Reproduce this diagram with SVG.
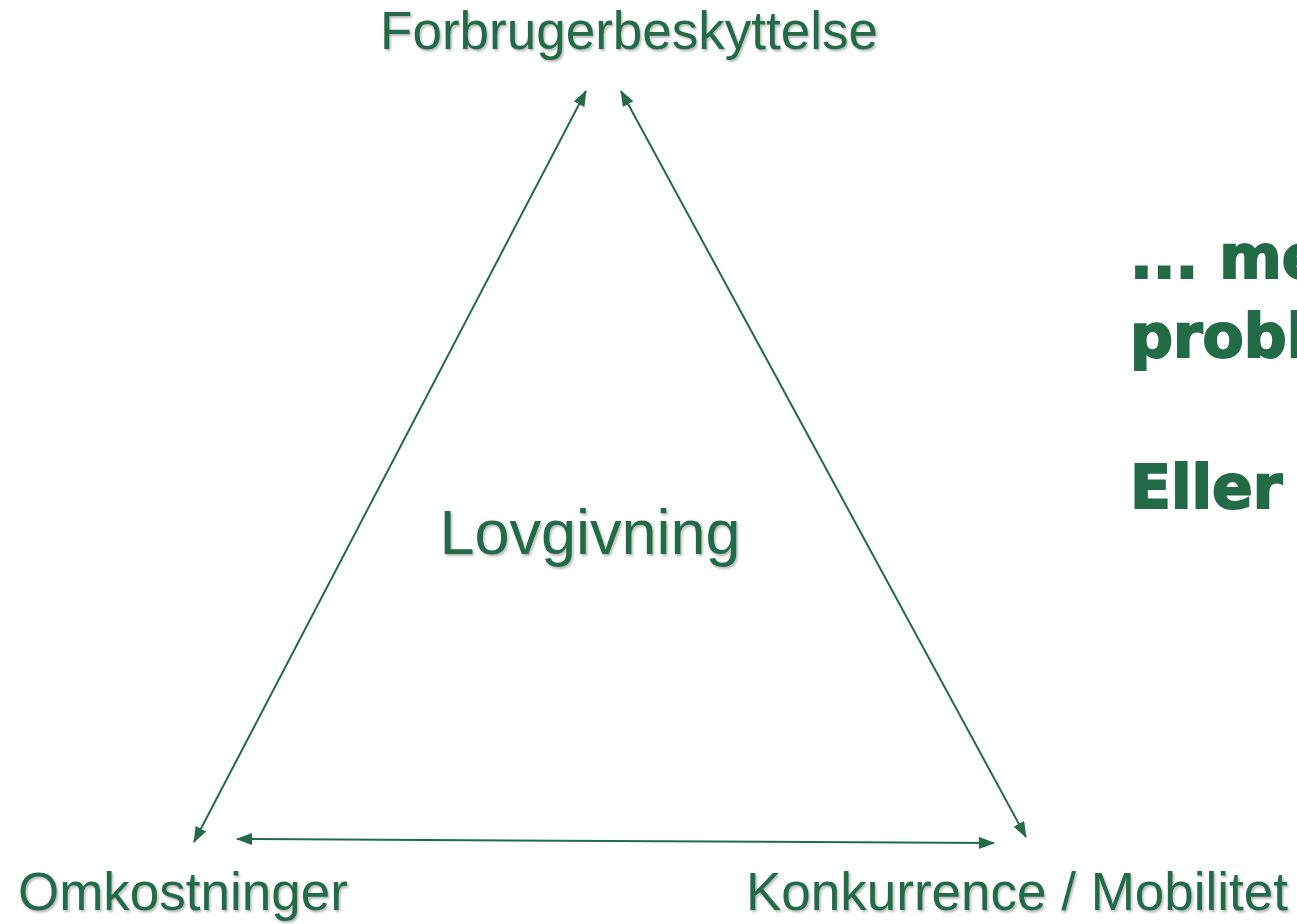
<svg xmlns="http://www.w3.org/2000/svg" width="1297" height="924" viewBox="0 0 1297 924">
  <style>
    .lbl { font-family: "Liberation Sans", Arial, sans-serif; fill: #236b48; filter: url(#shadow); }
    .big { font-family: "DejaVu Sans", "Liberation Sans", sans-serif; font-weight: bold; fill: #236b48; stroke: #236b48; stroke-width: 2; font-size: 60px; }
    .conn { stroke: #236b48; stroke-width: 2; fill: none; marker-start: url(#head); marker-end: url(#head); }
  </style>
  <defs>
    <filter id="shadow" x="-5%" y="-20%" width="110%" height="150%">
      <feDropShadow dx="1.5" dy="2" stdDeviation="1.2" flood-color="#000" flood-opacity="0.28"/>
    </filter>
    <marker id="head" viewBox="0 0 16 12" refX="15" refY="6" markerWidth="16" markerHeight="12" markerUnits="userSpaceOnUse" orient="auto-start-reverse">
      <path d="M0,0 L16,6 L0,12 Z" fill="#236b48"/>
    </marker>
  </defs>
  <rect width="1297" height="924" fill="#ffffff"/>

  <g id="connectors">
    <line class="conn" x1="194" y1="842" x2="586" y2="91"/>
    <line class="conn" x1="621" y1="91" x2="1026" y2="837"/>
    <line class="conn" x1="237" y1="839" x2="994" y2="843"/>
  </g>

  <g id="node-forbruger">
    <text class="lbl" x="629" y="49" font-size="53" text-anchor="middle">Forbrugerbeskyttelse</text>
  </g>
  <g id="node-omkostninger">
    <text class="lbl" x="18" y="910" font-size="53">Omkostninger</text>
  </g>
  <g id="node-konkurrence">
    <text class="lbl" x="746" y="910" font-size="53">Konkurrence / Mobilitet</text>
  </g>
  <g id="node-lovgivning">
    <text class="lbl" x="590" y="554" font-size="63" text-anchor="middle">Lovgivning</text>
  </g>

  <g id="side-note">
    <text class="big" x="1130" y="278">... me</text>
    <text class="big" x="1130" y="357">probl</text>
    <text class="big" x="1130" y="508">Eller</text>
  </g>
</svg>
